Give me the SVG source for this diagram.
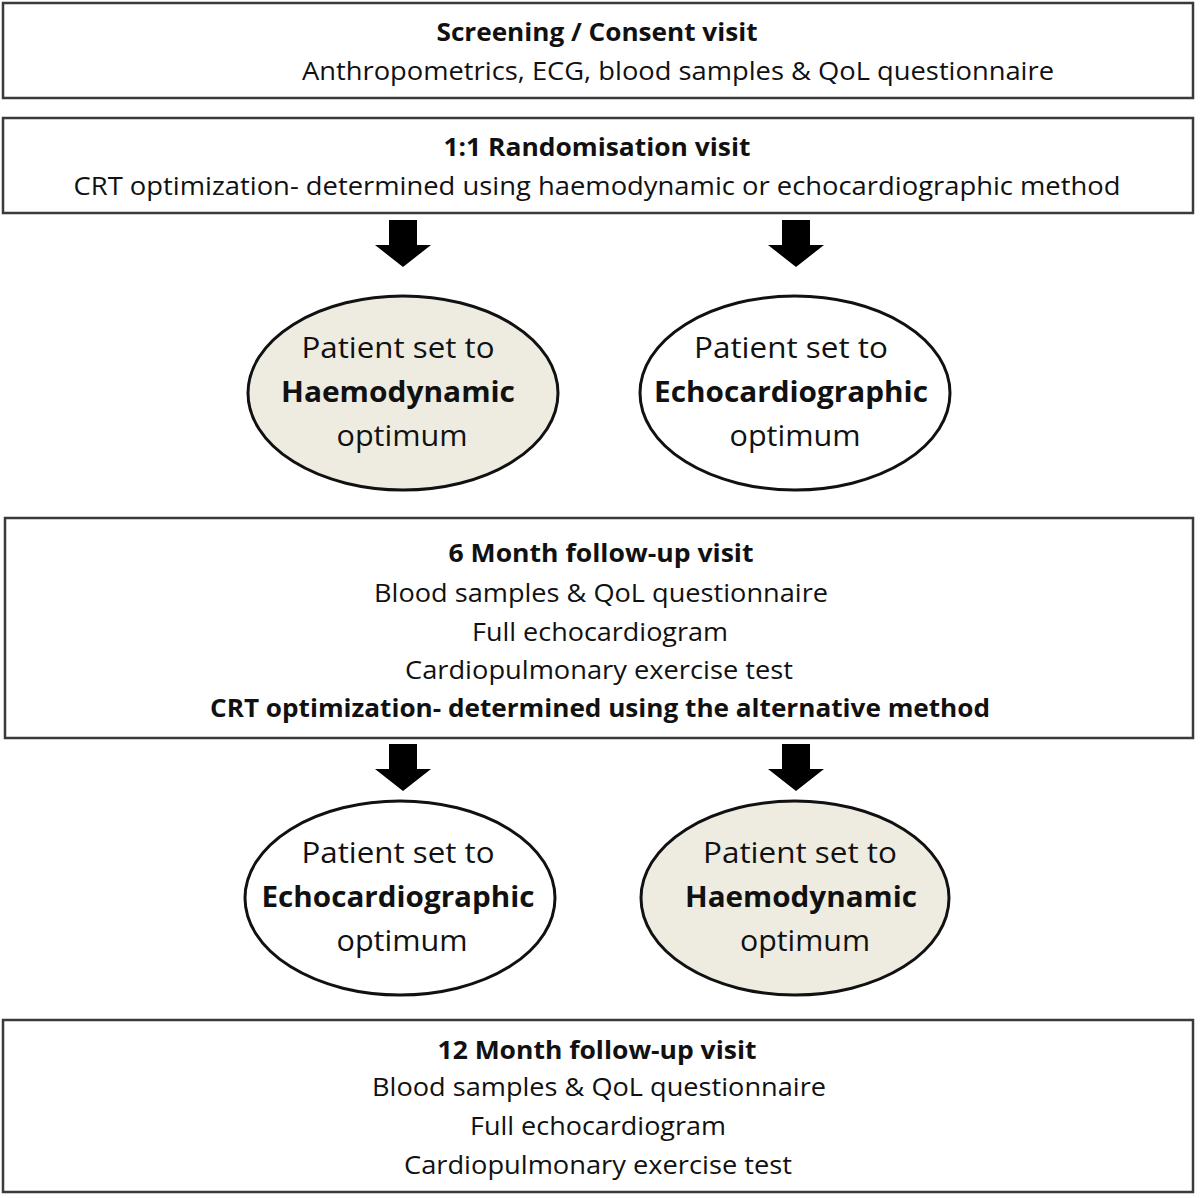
<svg xmlns="http://www.w3.org/2000/svg" width="1200" height="1198" viewBox="0 0 1200 1198">
<style>
.box{fill:#fff;stroke:#3a3a3a;stroke-width:2.5}
.ell{stroke:#111;stroke-width:3}
.white{fill:#fff}
.beige{fill:#eeece1}
text{font-family:"Open Sans","Liberation Sans",sans-serif;fill:#111;text-anchor:middle}
.t{font-size:25px}
.b{font-size:25px;font-weight:bold}
.e{font-size:29px}
.eb{font-size:29px;font-weight:bold}
.arr{fill:#000}
</style>
<defs>
<path id="arrow" d="M-14,0 H14 V25 H28 L0,47 L-28,25 H-14 Z"/>
</defs>
<rect width="1200" height="1198" fill="#fff"/>

<g id="screening">
<rect class="box" x="3" y="3" width="1190" height="95"/>
<text class="b" x="597" y="41" textLength="321" lengthAdjust="spacingAndGlyphs">Screening / Consent visit</text>
<text class="t" x="678" y="80" textLength="752" lengthAdjust="spacingAndGlyphs">Anthropometrics, ECG, blood samples &amp; QoL questionnaire</text>
</g>

<g id="randomisation">
<rect class="box" x="3" y="118" width="1190" height="95"/>
<text class="b" x="597" y="156" textLength="307" lengthAdjust="spacingAndGlyphs">1:1 Randomisation visit</text>
<text class="t" x="597" y="195" textLength="1047" lengthAdjust="spacingAndGlyphs">CRT optimization- determined using haemodynamic or echocardiographic method</text>
</g>

<g id="connectors">
<use href="#arrow" class="arr" x="403" y="220"/>
<use href="#arrow" class="arr" x="796" y="220"/>
<use href="#arrow" class="arr" x="403" y="744"/>
<use href="#arrow" class="arr" x="796" y="744"/>
</g>

<g id="haemo1">
<ellipse class="ell beige" cx="403" cy="393" rx="155" ry="97"/>
<text class="e" x="398" y="358" textLength="193" lengthAdjust="spacingAndGlyphs">Patient set to</text>
<text class="eb" x="398" y="402" textLength="234" lengthAdjust="spacingAndGlyphs">Haemodynamic</text>
<text class="e" x="402" y="446" textLength="131" lengthAdjust="spacingAndGlyphs">optimum</text>
</g>

<g id="echo1">
<ellipse class="ell white" cx="795" cy="393" rx="155" ry="97"/>
<text class="e" x="791" y="358" textLength="194" lengthAdjust="spacingAndGlyphs">Patient set to</text>
<text class="eb" x="791" y="402" textLength="274" lengthAdjust="spacingAndGlyphs">Echocardiographic</text>
<text class="e" x="795" y="446" textLength="131" lengthAdjust="spacingAndGlyphs">optimum</text>
</g>

<g id="month6">
<rect class="box" x="5" y="518" width="1188" height="220"/>
<text class="b" x="601" y="562" textLength="305" lengthAdjust="spacingAndGlyphs">6 Month follow-up visit</text>
<text class="t" x="601" y="602" textLength="454" lengthAdjust="spacingAndGlyphs">Blood samples &amp; QoL questionnaire</text>
<text class="t" x="600" y="641" textLength="256" lengthAdjust="spacingAndGlyphs">Full echocardiogram</text>
<text class="t" x="599" y="679" textLength="388" lengthAdjust="spacingAndGlyphs">Cardiopulmonary exercise test</text>
<text class="b" x="600" y="717" textLength="780" lengthAdjust="spacingAndGlyphs">CRT optimization- determined using the alternative method</text>
</g>

<g id="echo2">
<ellipse class="ell white" cx="400" cy="898" rx="155" ry="97"/>
<text class="e" x="398" y="863" textLength="193" lengthAdjust="spacingAndGlyphs">Patient set to</text>
<text class="eb" x="398" y="907" textLength="273" lengthAdjust="spacingAndGlyphs">Echocardiographic</text>
<text class="e" x="402" y="951" textLength="131" lengthAdjust="spacingAndGlyphs">optimum</text>
</g>

<g id="haemo2">
<ellipse class="ell beige" cx="795" cy="898" rx="154" ry="97"/>
<text class="e" x="800" y="863" textLength="194" lengthAdjust="spacingAndGlyphs">Patient set to</text>
<text class="eb" x="801" y="907" textLength="232" lengthAdjust="spacingAndGlyphs">Haemodynamic</text>
<text class="e" x="805" y="951" textLength="130" lengthAdjust="spacingAndGlyphs">optimum</text>
</g>

<g id="month12">
<rect class="box" x="3" y="1020" width="1190" height="172"/>
<text class="b" x="597" y="1059" textLength="319" lengthAdjust="spacingAndGlyphs">12 Month follow-up visit</text>
<text class="t" x="599" y="1096" textLength="454" lengthAdjust="spacingAndGlyphs">Blood samples &amp; QoL questionnaire</text>
<text class="t" x="598" y="1135" textLength="256" lengthAdjust="spacingAndGlyphs">Full echocardiogram</text>
<text class="t" x="598" y="1174" textLength="388" lengthAdjust="spacingAndGlyphs">Cardiopulmonary exercise test</text>
</g>
</svg>
